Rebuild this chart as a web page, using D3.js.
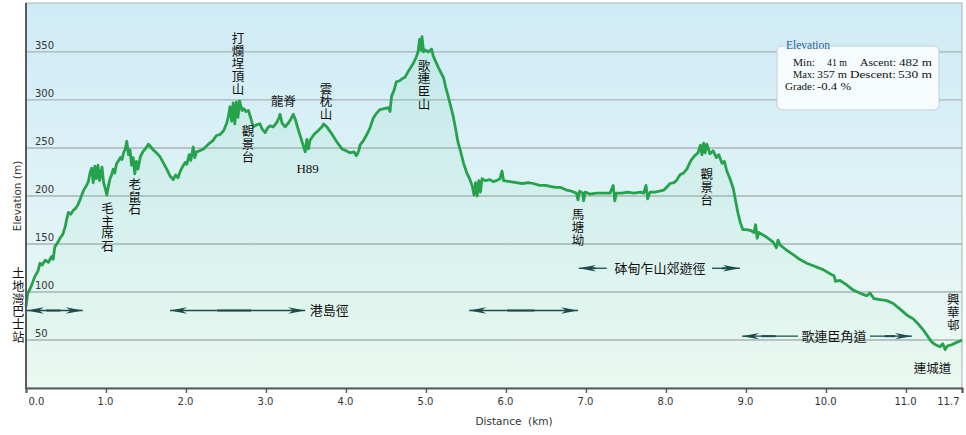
<!DOCTYPE html>
<html>
<head>
<meta charset="utf-8">
<script src="https://cdn.jsdelivr.net/npm/d3@7"></script>
<style>
  body { margin: 0; background: #fff; }
  svg { display: block; }
</style>
</head>
<body>
<svg id="chart"></svg>
<script>
// profile: distance (km) and elevation (m)
var distKm = [
  0.00, 0.02, 0.06, 0.11, 0.15, 0.175, 0.20, 0.24, 0.28, 0.32, 0.34, 0.36, 0.40, 0.425, 0.46, 0.49,
  0.51, 0.53, 0.56, 0.59, 0.62, 0.65, 0.68, 0.72, 0.75, 0.78, 0.80, 0.82, 0.84, 0.86, 0.88, 0.90,
  0.92, 0.95, 0.97, 0.99, 1.01, 1.03, 1.05, 1.07, 1.09, 1.11, 1.13, 1.15, 1.18, 1.20, 1.22, 1.24,
  1.26, 1.28, 1.30, 1.32, 1.34, 1.36, 1.38, 1.40, 1.43, 1.46, 1.50, 1.53, 1.56, 1.59, 1.63, 1.675,
  1.72, 1.76, 1.80, 1.84, 1.87, 1.90, 1.925, 1.96, 1.99, 2.01, 2.04, 2.06, 2.09, 2.11, 2.13, 2.17,
  2.22, 2.28, 2.34, 2.38, 2.425, 2.47, 2.51, 2.53, 2.55, 2.57, 2.59, 2.61, 2.63, 2.65, 2.67, 2.70,
  2.72, 2.75, 2.78, 2.81, 2.84, 2.88, 2.925, 2.95, 2.99, 3.02, 3.05, 3.09, 3.13, 3.16, 3.175, 3.20,
  3.24, 3.28, 3.31, 3.34, 3.37, 3.40, 3.43, 3.46, 3.49, 3.51, 3.53, 3.55, 3.60, 3.65, 3.70, 3.72,
  3.76, 3.82, 3.88, 3.95, 4.00, 4.05, 4.10, 4.13, 4.16, 4.175, 4.22, 4.26, 4.30, 4.34, 4.38, 4.425,
  4.48, 4.53, 4.55, 4.57, 4.60, 4.63, 4.67, 4.70, 4.74, 4.78, 4.84, 4.88, 4.90, 4.92, 4.94, 4.95,
  4.97, 4.99, 5.03, 5.07, 5.09, 5.11, 5.16, 5.19, 5.22, 5.25, 5.28, 5.31, 5.34, 5.37, 5.40, 5.44,
  5.47, 5.51, 5.55, 5.58, 5.60, 5.62, 5.64, 5.66, 5.68, 5.70, 5.74, 5.80, 5.84, 5.88, 5.925, 5.95,
  5.97, 6.05, 6.13, 6.20, 6.28, 6.34, 6.42, 6.50, 6.55, 6.62, 6.68, 6.76, 6.82, 6.88, 6.90, 6.92,
  6.96, 6.97, 6.99, 7.05, 7.13, 7.20, 7.30, 7.34, 7.36, 7.38, 7.45, 7.52, 7.60, 7.68, 7.72, 7.75,
  7.77, 7.80, 7.86, 7.92, 7.97, 8.02, 8.05, 8.10, 8.13, 8.175, 8.22, 8.26, 8.30, 8.32, 8.36, 8.40,
  8.43, 8.45, 8.47, 8.49, 8.51, 8.55, 8.59, 8.63, 8.66, 8.70, 8.73, 8.76, 8.80, 8.84, 8.87, 8.90,
  8.93, 8.96, 9.01, 9.06, 9.10, 9.12, 9.14, 9.16, 9.26, 9.34, 9.38, 9.40, 9.425, 9.50, 9.59, 9.67,
  9.76, 9.85, 9.97, 10.05, 10.10, 10.12, 10.175, 10.25, 10.34, 10.42, 10.51, 10.55, 10.60, 10.675, 10.76, 10.84,
  10.90, 10.97, 11.01, 11.05, 11.09, 11.15, 11.22, 11.27, 11.32, 11.37, 11.425, 11.46, 11.49, 11.52, 11.57, 11.62,
  11.675, 11.70
];
var elevM = [
  85, 98, 105, 116, 122, 130, 128, 133, 131, 137, 134, 147, 152, 156, 160, 168,
  176, 183, 181, 185, 187, 191, 197, 206, 210, 215, 224, 229, 214, 231, 218, 232,
  216, 230, 214, 208, 201, 210, 218, 222, 228, 224, 233, 236, 240, 238, 245, 249,
  257, 243, 248, 232, 240, 223, 236, 228, 241, 246, 250, 254, 251, 248, 245, 241,
  234, 228, 221, 217, 222, 219, 225, 231, 235, 233, 243, 237, 251, 240, 246, 247,
  249, 254, 258, 263, 264, 268, 276, 283, 293, 278, 297, 275, 298, 282, 299, 289,
  291, 288, 289, 281, 272, 274, 275, 270, 266, 271, 273, 272, 276, 281, 285, 276,
  272, 276, 280, 285, 279, 270, 262, 254, 246, 259, 249, 258, 264, 268, 272, 275,
  272, 265, 257, 249, 247, 245, 246, 242, 247, 253, 258, 264, 271, 281, 286, 290,
  291, 292, 288, 304, 310, 319, 320, 322, 324, 330, 338, 345, 350, 363, 352, 366,
  350, 352, 350, 353, 346, 342, 333, 328, 323, 312, 303, 293, 283, 270, 256, 244,
  234, 224, 217, 210, 201, 214, 200, 216, 204, 218, 216, 217, 215, 216, 218, 226,
  216, 215, 214, 213, 214, 213, 211, 211, 210, 209, 209, 206, 205, 203, 196, 205,
  203, 195, 204, 202, 203, 203, 203, 211, 195, 203, 203, 204, 203, 204, 203, 211,
  197, 204, 204, 205, 206, 210, 213, 214, 216, 222, 224, 228, 235, 238, 242, 245,
  253, 243, 255, 245, 254, 244, 247, 240, 243, 234, 236, 226, 218, 208, 195, 182,
  172, 165, 165, 164, 162, 170, 156, 162, 157, 152, 146, 154, 149, 144, 139, 134,
  130, 127, 123, 119, 117, 111, 112, 108, 102, 99, 96, 99, 93, 92, 91, 88,
  84, 79, 76, 74, 72, 67, 60, 54, 48, 45, 43, 46, 40, 44, 45, 47,
  49, 50
];

var xTicks = [0, 1, 2, 3, 4, 5, 6, 7, 8, 9, 10, 11, 11.7];
var yTicks = [50, 100, 150, 200, 250, 300, 350];

// place names written top-to-bottom: [text, km, m at top of first char]
var vLabels = [
  ["毛主席石", 1.02, 194],
  ["老鼠石", 1.36, 219],
  ["打爛埕頂山", 2.65, 371],
  ["觀景台", 2.775, 274],
  ["雲枕山", 3.75, 318],
  ["歌連臣山", 4.975, 342],
  ["馬塘坳", 6.9, 187],
  ["觀景台", 8.51, 229],
  ["興華邨", 11.59, 99],
  ["土地灣巴士站", -0.096, 126]
];
// place names written across: [text, km, m at centre]
var hLabels = [
  ["龍脊", 3.22, 298],
  ["連城道", 11.33, 20]
];

// trail arrows: [from km, to km, m, which heads]
var trailArrows = [
  [0.01, 0.71, 80.7, "both"],
  [1.80, 3.49, 80.7, "both"],
  [5.54, 6.90, 80.7, "both"],
  [6.91, 7.26, 124.7, "left"],
  [8.575, 8.925, 124.7, "right"],
  [8.95, 9.65, 54, "left"],
  [10.55, 11.075, 54, "right"]
];
var trailNames = [
  ["港島徑", 3.79, 80.7],
  ["砵甸乍山郊遊徑", 7.925, 124.7],
  ["歌連臣角道", 10.10, 54]
];

// summary figures shown in the box
var statMin = 41, statMax = 357, statAscent = 482, statDescent = 530, statGrade = -0.4;

var width = 966;
var height = 435;
var margin = {left: 26, right: 4, top: 3, bottom: 47};
var cjk = "'Noto Sans CJK TC', 'Noto Sans CJK SC', sans-serif";

var svg = d3.select("#chart")
    .attr("width", width)
    .attr("height", height);

var x = d3.scaleLinear()
    .domain([0, 11.7])
    .range([margin.left, width - margin.right]);
var y = d3.scaleLinear()
    .domain([0, 401])
    .range([height - margin.bottom, margin.top]);

var defs = svg.append("defs");
var bg = defs.append("linearGradient")
    .attr("id", "bg").attr("x1", 0).attr("y1", 0).attr("x2", 0).attr("y2", 1);
bg.append("stop").attr("offset", "0%").attr("stop-color", "#cfebf7");
bg.append("stop").attr("offset", "55%").attr("stop-color", "#e0f3f6");
bg.append("stop").attr("offset", "100%").attr("stop-color", "#eefaf3");

var under = defs.append("linearGradient")
    .attr("id", "under").attr("x1", 0).attr("x2", 0)
    .attr("gradientUnits", "userSpaceOnUse")
    .attr("y1", y(400)).attr("y2", y(0));
under.append("stop").attr("offset", "0%").attr("stop-color", "#5cd08c").attr("stop-opacity", 0.13);
under.append("stop").attr("offset", "100%").attr("stop-color", "#5cd08c").attr("stop-opacity", 0.03);

// plot background
svg.append("rect")
    .attr("x", x(0))
    .attr("y", y(401))
    .attr("width", x(11.7) - x(0))
    .attr("height", y(0) - y(401))
    .attr("fill", "url(#bg)")
    .attr("stroke", "#a9b1b3")
    .attr("stroke-width", 1);

// grid
svg.append("g")
    .selectAll("line")
    .data(yTicks)
    .enter()
    .append("line")
    .attr("x1", x(0))
    .attr("x2", x(11.7))
    .attr("y1", function (d) { return y(d); })
    .attr("y2", function (d) { return y(d); })
    .attr("stroke", "#a7b3b3")
    .attr("stroke-width", 1.3);

var points = d3.range(distKm.length).map(function (i) {
    return [distKm[i], elevM[i]];
});

var area = d3.area()
    .x(function (d) { return x(d[0]); })
    .y0(y(0))
    .y1(function (d) { return y(d[1]); });
svg.append("path")
    .datum(points)
    .attr("d", area)
    .attr("fill", "url(#under)");

var line = d3.line()
    .x(function (d) { return x(d[0]); })
    .y(function (d) { return y(d[1]); });
svg.append("path")
    .datum(points)
    .attr("d", line)
    .attr("fill", "none")
    .attr("stroke", "#25a24b")
    .attr("stroke-width", 2.8)
    .attr("stroke-linejoin", "round");

// y tick labels sit inside the plot, above their grid line
svg.append("g")
    .selectAll("text")
    .data(yTicks)
    .enter()
    .append("text")
    .attr("x", x(0) + 9)
    .attr("y", function (d) { return y(d) - 3; })
    .style("font-family", "'DejaVu Sans', Verdana, sans-serif")
    .style("font-size", "10px")
    .attr("fill", "#333")
    .text(function (d) { return d; });

// x axis
var xAxis = d3.axisBottom(x)
    .tickValues(xTicks)
    .tickSize(5)
    .tickFormat(d3.format(".1f"));
var gx = svg.append("g")
    .attr("transform", "translate(0," + y(0) + ")")
    .call(xAxis);
gx.select(".domain").attr("stroke", "#5a5a5a").attr("stroke-width", 2);
gx.selectAll(".tick line").attr("stroke", "#5a5a5a").attr("stroke-width", 1.5);
gx.selectAll(".tick text")
    .style("font-family", "'DejaVu Sans', Verdana, sans-serif")
    .style("font-size", "10px")
    .attr("fill", "#333")
    .attr("y", 10)
    .attr("text-anchor", function (d) {
        if (d === 0) return "start";
        if (d === 11.7) return "end";
        return "middle";
    })
    .attr("dx", function (d) {
        if (d === 0) return 2;
        if (d === 11.7) return -3;
        return -1;
    });

// left axis line
svg.append("line")
    .attr("x1", x(0)).attr("x2", x(0))
    .attr("y1", y(401)).attr("y2", y(0) + 1)
    .attr("stroke", "#5a5a5a")
    .attr("stroke-width", 2);

svg.append("text")
    .attr("x", (x(0) + x(11.7)) / 2 + 20)
    .attr("y", 425)
    .attr("text-anchor", "middle")
    .style("font-family", "'DejaVu Sans', Verdana, sans-serif")
    .style("font-size", "10.5px")
    .attr("fill", "#333")
    .attr("xml:space", "preserve")
    .text("Distance  (km)");

svg.append("text")
    .attr("transform", "translate(21," + y(200) + ")rotate(-90)")
    .attr("text-anchor", "middle")
    .style("font-family", "'DejaVu Sans', Verdana, sans-serif")
    .style("font-size", "10.5px")
    .attr("fill", "#333")
    .text("Elevation (m)");

// vertical place names, one text each, set top-to-bottom
vLabels.forEach(function (lab) {
    svg.append("text")
        .attr("x", x(lab[1]))
        .attr("y", y(lab[2]))
        .style("writing-mode", "vertical-rl")
        .style("text-orientation", "upright")
        .style("letter-spacing", "0.3px")
        .style("font-family", cjk)
        .style("font-size", "12.5px")
        .attr("fill", "#111")
        .text(lab[0]);
});

hLabels.forEach(function (lab) {
    svg.append("text")
        .attr("x", x(lab[1]))
        .attr("y", y(lab[2]) + 4.5)
        .attr("text-anchor", "middle")
        .style("font-family", cjk)
        .style("font-size", "12.5px")
        .attr("fill", "#111")
        .text(lab[0]);
});

svg.append("text")
    .attr("x", x(3.52))
    .attr("y", y(229) + 5)
    .attr("text-anchor", "middle")
    .style("font-family", "'Liberation Serif', serif")
    .style("font-size", "13px")
    .attr("fill", "#111")
    .text("H89");

// trail arrows
var arrowColor = "#1b4d4a";
function head(g, tipX, yy, dir) {
    // dir -1 points left, 1 points right
    var pts = [
        [tipX, yy],
        [tipX - dir * 17, yy - 3.2],
        [tipX - dir * 12, yy],
        [tipX - dir * 17, yy + 3.2]
    ];
    g.append("polygon")
        .attr("points", pts.map(function (p) { return p.join(","); }).join(" "))
        .attr("fill", arrowColor);
}
var ga = svg.append("g");
trailArrows.forEach(function (a) {
    var x1 = x(a[0]), x2 = x(a[1]), yy = y(a[2]);
    ga.append("line")
        .attr("x1", x1).attr("x2", x2)
        .attr("y1", yy).attr("y2", yy)
        .attr("stroke", arrowColor)
        .attr("stroke-width", 1.3);
    ga.append("line")
        .attr("x1", x1 + (x2 - x1) * 0.35).attr("x2", x1 + (x2 - x1) * 0.6)
        .attr("y1", yy).attr("y2", yy)
        .attr("stroke", arrowColor)
        .attr("stroke-width", 2);
    if (a[3] === "both" || a[3] === "left") head(ga, x1, yy, -1);
    if (a[3] === "both" || a[3] === "right") head(ga, x2, yy, 1);
});
trailNames.forEach(function (n) {
    svg.append("text")
        .attr("x", x(n[1]))
        .attr("y", y(n[2]) + 4.5)
        .attr("text-anchor", "middle")
        .style("font-family", cjk)
        .style("font-size", "13px")
        .attr("fill", "#111")
        .text(n[0]);
});

// summary box
var box = svg.append("g");
box.append("rect")
    .attr("x", 777).attr("y", 46)
    .attr("width", 162).attr("height", 64)
    .attr("rx", 5)
    .attr("fill", "#f6fcfe")
    .attr("stroke", "#c5ccd1");
box.append("rect")
    .attr("x", 784).attr("y", 44.5)
    .attr("width", 46).attr("height", 3)
    .attr("fill", "#d2ecf7");
box.append("text")
    .attr("x", 786).attr("y", 49)
    .style("font-family", "'Liberation Serif', serif")
    .style("font-size", "11.5px")
    .attr("fill", "#2c5d9c")
    .text("Elevation");

// each piece: text, right (or left) edge, anchor, width it spans in the picture
var serif = "'Liberation Serif', serif";
var rows = [
    [["Min:", 815, "end", 22], [statMin + " m", 847, "end", 20], ["Ascent:", 896, "end", 36], [statAscent + " m", 932, "end", 33]],
    [["Max:", 815, "end", 22], [statMax + " m", 847, "end", 30], ["Descent:", 896, "end", 46], [statDescent + " m", 932, "end", 34]],
    [["Grade:", 815, "end", 30], [statGrade + " %", 817, "start", 34]]
];
rows.forEach(function (r, i) {
    r.forEach(function (c) {
        box.append("text")
            .attr("x", c[1])
            .attr("y", 65.5 + i * 12.3)
            .attr("text-anchor", c[2])
            .attr("textLength", c[3])
            .attr("lengthAdjust", "spacingAndGlyphs")
            .style("font-family", serif)
            .style("font-size", "11px")
            .attr("fill", "#111")
            .text(c[0]);
    });
});
</script>
</body>
</html>
